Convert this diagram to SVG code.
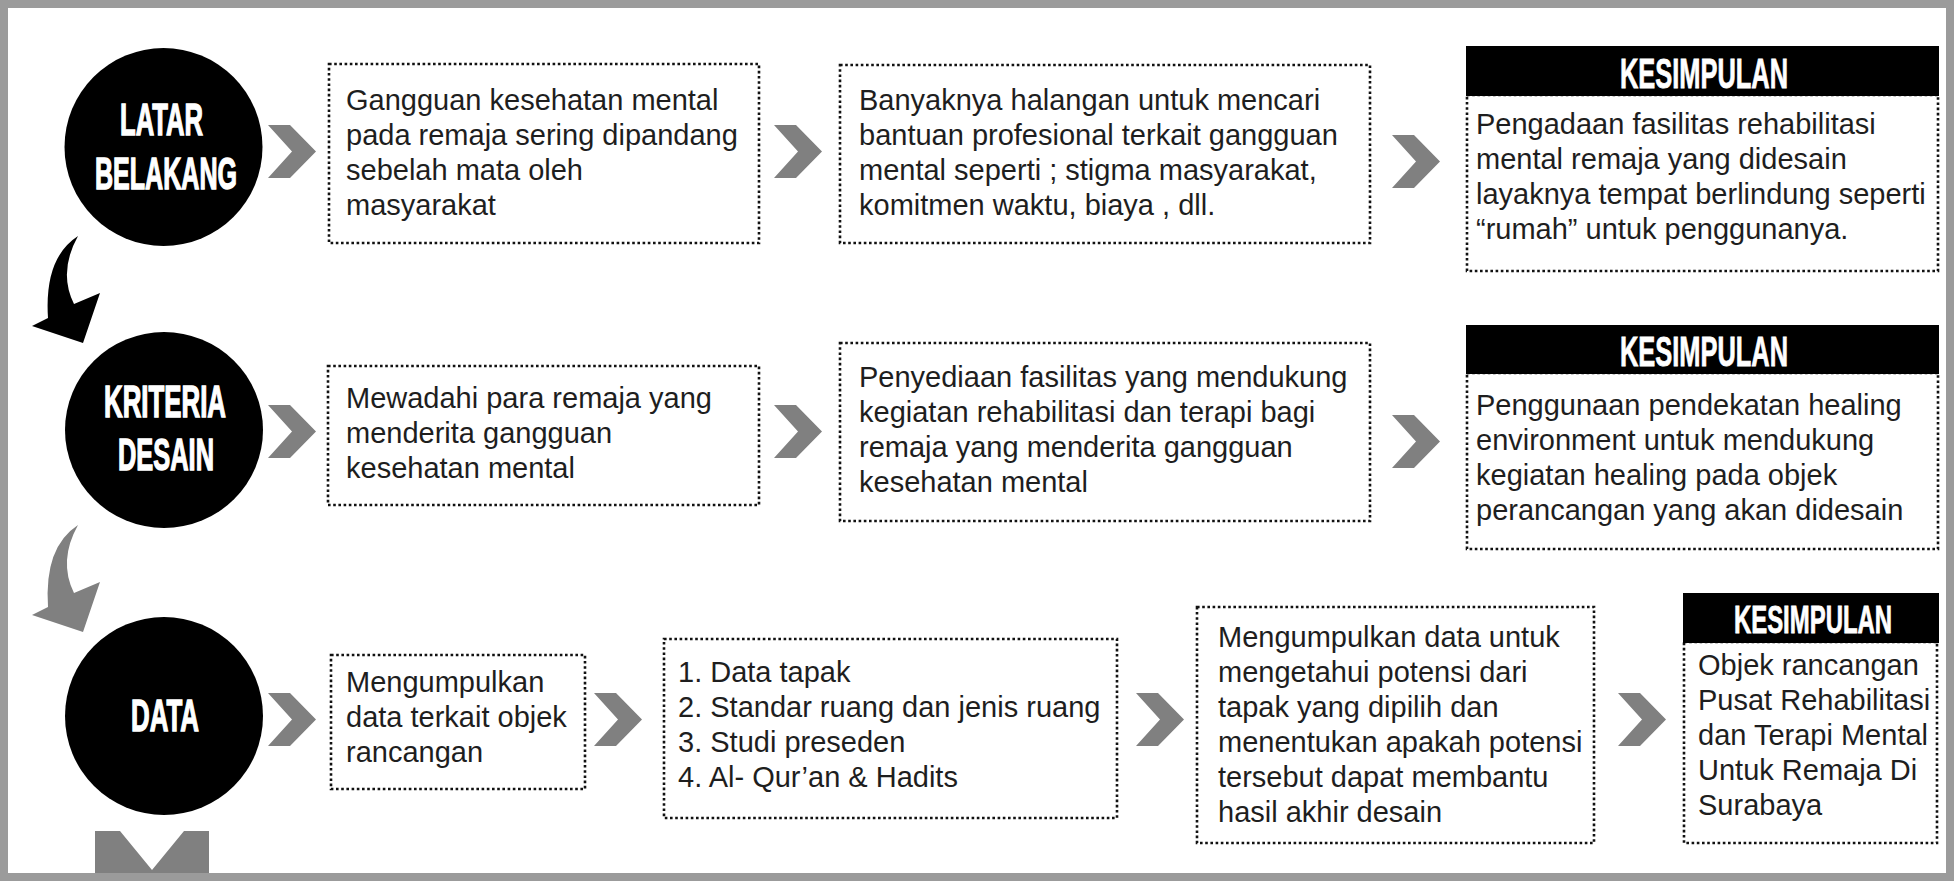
<svg xmlns="http://www.w3.org/2000/svg" width="1954" height="881" viewBox="0 0 1954 881">
<style>
.box{fill:#fff;stroke:#111;stroke-width:2.6;stroke-dasharray:2.6 2.6}
.hdr{fill:#000}
.circ{fill:#000}
.t{font-family:"Liberation Sans",Arial,sans-serif;font-size:29px;fill:#1e1e1e}
.ct{font-family:"Liberation Sans",Arial,sans-serif;font-weight:bold;font-size:44px;fill:#fff;text-anchor:middle;stroke:#fff;stroke-width:1.4}
.ht{font-family:"Liberation Sans",Arial,sans-serif;font-weight:bold;font-size:42px;fill:#fff;text-anchor:middle;stroke:#fff;stroke-width:0.8}
.chev{fill:#808080}
</style>
<defs>
<path id="chev" d="M0,0 L22,0 L48,26.5 L22,53 L0,53 L24,26.5 Z"/>
<path id="curv" d="M78,236 Q44,258 48,318 L32,326 L83,343 L100,293 L74,304 Q58,272 78,236 Z"/>
</defs>
<rect x="0" y="0" width="1954" height="881" fill="#fff"/>

<g id="connectors">
<use href="#chev" class="chev" x="268" y="125"/>
<use href="#chev" class="chev" x="774" y="125"/>
<use href="#chev" class="chev" x="1392" y="135"/>
<use href="#chev" class="chev" x="268" y="405"/>
<use href="#chev" class="chev" x="774" y="405"/>
<use href="#chev" class="chev" x="1392" y="415"/>
<use href="#chev" class="chev" x="268" y="693"/>
<use href="#chev" class="chev" x="594" y="693"/>
<use href="#chev" class="chev" x="1136" y="693"/>
<use href="#chev" class="chev" x="1618" y="693"/>
<use href="#curv" fill="#000"/>
<use href="#curv" fill="#808080" x="0" y="289"/>
<path d="M95,831 L120,831 L152,870 L184,831 L209,831 L209,881 L95,881 Z" fill="#808080"/>
</g>

<g id="latar-belakang">
<ellipse class="circ" cx="163.5" cy="147" rx="99" ry="99"/>
<text class="ct" x="161.5" y="135" textLength="83" lengthAdjust="spacingAndGlyphs">LATAR</text>
<text class="ct" x="166" y="189" textLength="142" lengthAdjust="spacingAndGlyphs">BELAKANG</text>
</g>
<g id="kriteria-desain">
<ellipse class="circ" cx="164" cy="430" rx="99" ry="98"/>
<text class="ct" x="165" y="417" textLength="122" lengthAdjust="spacingAndGlyphs">KRITERIA</text>
<text class="ct" x="166" y="470" textLength="96" lengthAdjust="spacingAndGlyphs">DESAIN</text>
</g>
<g id="data">
<ellipse class="circ" cx="164" cy="716" rx="99" ry="99"/>
<text class="ct" x="165" y="731" textLength="68" lengthAdjust="spacingAndGlyphs">DATA</text>
</g>

<g id="box-latar-1">
<rect class="box" x="329" y="64" width="430" height="179"/>
<text class="t"><tspan x="346" y="110">Gangguan kesehatan mental</tspan><tspan x="346" y="145">pada remaja sering dipandang</tspan><tspan x="346" y="180">sebelah mata oleh</tspan><tspan x="346" y="215">masyarakat</tspan></text>
</g>
<g id="box-latar-2">
<rect class="box" x="840" y="65" width="530" height="178"/>
<text class="t"><tspan x="859" y="110">Banyaknya halangan untuk mencari</tspan><tspan x="859" y="145">bantuan profesional terkait gangguan</tspan><tspan x="859" y="180">mental seperti ; stigma masyarakat,</tspan><tspan x="859" y="215">komitmen waktu, biaya , dll.</tspan></text>
</g>
<g id="kesimpulan-1">
<rect class="box" x="1467" y="95" width="471" height="176"/>
<rect class="hdr" x="1466" y="46" width="473" height="50"/>
<text class="ht" x="1704" y="88" textLength="168" lengthAdjust="spacingAndGlyphs">KESIMPULAN</text>
<text class="t"><tspan x="1476" y="134">Pengadaan fasilitas rehabilitasi</tspan><tspan x="1476" y="169">mental remaja yang didesain</tspan><tspan x="1476" y="204">layaknya tempat berlindung seperti</tspan><tspan x="1476" y="239">“rumah” untuk penggunanya.</tspan></text>
</g>

<g id="box-kriteria-1">
<rect class="box" x="328" y="366" width="431" height="139"/>
<text class="t"><tspan x="346" y="408">Mewadahi para remaja yang</tspan><tspan x="346" y="443">menderita gangguan</tspan><tspan x="346" y="478">kesehatan mental</tspan></text>
</g>
<g id="box-kriteria-2">
<rect class="box" x="840" y="343" width="530" height="178"/>
<text class="t"><tspan x="859" y="387">Penyediaan fasilitas yang mendukung</tspan><tspan x="859" y="422">kegiatan rehabilitasi dan terapi bagi</tspan><tspan x="859" y="457">remaja yang menderita gangguan</tspan><tspan x="859" y="492">kesehatan mental</tspan></text>
</g>
<g id="kesimpulan-2">
<rect class="box" x="1467" y="373" width="471" height="176"/>
<rect class="hdr" x="1466" y="325" width="473" height="49"/>
<text class="ht" x="1704" y="366" textLength="168" lengthAdjust="spacingAndGlyphs">KESIMPULAN</text>
<text class="t"><tspan x="1476" y="415">Penggunaan pendekatan healing</tspan><tspan x="1476" y="450">environment untuk mendukung</tspan><tspan x="1476" y="485">kegiatan healing pada objek</tspan><tspan x="1476" y="520">perancangan yang akan didesain</tspan></text>
</g>

<g id="box-data-1">
<rect class="box" x="331" y="655" width="254" height="134"/>
<text class="t"><tspan x="346" y="692">Mengumpulkan</tspan><tspan x="346" y="727">data terkait objek</tspan><tspan x="346" y="762">rancangan</tspan></text>
</g>
<g id="box-data-2">
<rect class="box" x="664" y="639" width="453" height="179"/>
<text class="t"><tspan x="678" y="682">1. Data tapak</tspan><tspan x="678" y="717">2. Standar ruang dan jenis ruang</tspan><tspan x="678" y="752">3. Studi preseden</tspan><tspan x="678" y="787">4. Al- Qur’an &amp; Hadits</tspan></text>
</g>
<g id="box-data-3">
<rect class="box" x="1197" y="607" width="397" height="236"/>
<text class="t"><tspan x="1218" y="647">Mengumpulkan data untuk</tspan><tspan x="1218" y="682">mengetahui potensi dari</tspan><tspan x="1218" y="717">tapak yang dipilih dan</tspan><tspan x="1218" y="752">menentukan apakah potensi</tspan><tspan x="1218" y="787">tersebut dapat membantu</tspan><tspan x="1218" y="822">hasil akhir desain</tspan></text>
</g>
<g id="kesimpulan-3">
<rect class="box" x="1684" y="642" width="253" height="201"/>
<rect class="hdr" x="1683" y="593" width="256" height="50"/>
<text class="ht" transform="translate(1813 633) scale(0.63 1)" x="0" y="0" style="font-size:38px">KESIMPULAN</text>
<text class="t"><tspan x="1698" y="675">Objek rancangan</tspan><tspan x="1698" y="710">Pusat Rehabilitasi</tspan><tspan x="1698" y="745">dan Terapi Mental</tspan><tspan x="1698" y="780">Untuk Remaja Di</tspan><tspan x="1698" y="815">Surabaya</tspan></text>
</g>

<rect x="4" y="4" width="1946" height="873" fill="none" stroke="#9b9b9b" stroke-width="8"/>
</svg>
